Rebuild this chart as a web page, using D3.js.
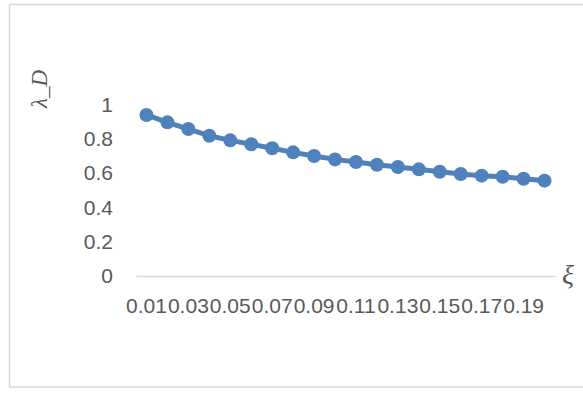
<!DOCTYPE html>
<html>
<head>
<meta charset="utf-8">
<script src="https://cdn.jsdelivr.net/npm/d3@7"></script>
<style>
  html, body { margin: 0; padding: 0; background: #fff; }
  svg { display: block; }
</style>
</head>
<body>
<script>
const categories = ["0.01","0.02","0.03","0.04","0.05","0.06","0.07","0.08","0.09","0.10",
                    "0.11","0.12","0.13","0.14","0.15","0.16","0.17","0.18","0.19","0.20"];
const lambdaD = [0.939,0.896,0.857,0.818,0.791,0.768,0.745,0.721,0.700,0.680,
                 0.665,0.649,0.636,0.622,0.608,0.595,0.585,0.579,0.567,0.556];
const yTicks = [0, 0.2, 0.4, 0.6, 0.8, 1];
const xTickLabels = categories.filter((d, i) => i % 2 === 0);

const W = 583, H = 395;
const svg = d3.select("body").append("svg").attr("width", W).attr("height", H);

// chart frame
svg.append("rect").attr("x", 9.5).attr("y", 4.5).attr("width", 600).attr("height", 382.5)
  .attr("fill", "#fff").attr("stroke", "#d9d9d9").attr("stroke-width", 1.5);

const plot = { left: 136, right: 555, top: 104.5, bottom: 276 };
const x = d3.scaleBand().domain(categories).range([plot.left, plot.right]);
const y = d3.scaleLinear().domain([0, 1]).range([plot.bottom, plot.top]);

const font = "'Liberation Sans', Arial, sans-serif";

// x axis
const xAxis = svg.append("g").attr("transform", `translate(0,${plot.bottom})`)
  .call(d3.axisBottom(x).tickValues(xTickLabels).tickSize(0).tickPadding(0));
xAxis.select(".domain").attr("stroke", "#d9d9d9").attr("stroke-width", 1.3);
xAxis.selectAll("text").attr("fill", "#595959").attr("font-family", font)
  .attr("font-size", 21).attr("dy", null).attr("y", 37);

// y axis (labels only)
const yAxis = svg.append("g").attr("transform", `translate(${plot.left},0)`)
  .call(d3.axisLeft(y).tickValues(yTicks).tickFormat(d3.format("~g")).tickSize(0).tickPadding(23));
yAxis.select(".domain").remove();
yAxis.selectAll("text").attr("fill", "#595959").attr("font-family", font).attr("font-size", 21);

// series
const pts = categories.map((c, i) => ({ c, v: lambdaD[i] }));
const line = d3.line().x(d => x(d.c) + x.bandwidth() / 2).y(d => y(d.v));
svg.append("path").datum(pts).attr("d", line).attr("fill", "none")
  .attr("stroke", "#4f81bd").attr("stroke-width", 5).attr("stroke-linejoin", "round");
svg.selectAll("circle.pt").data(pts).enter().append("circle").attr("class", "pt")
  .attr("cx", d => x(d.c) + x.bandwidth() / 2).attr("cy", d => y(d.v)).attr("r", 7)
  .attr("fill", "#4f81bd");

// axis titles
svg.append("text").attr("transform", "translate(47,89) rotate(-90)")
  .attr("text-anchor", "middle").attr("font-family", "'Liberation Serif', 'DejaVu Serif', serif")
  .attr("font-style", "italic").attr("font-size", 23).attr("fill", "#595959").text("λ_D");
svg.append("text").attr("x", 562).attr("y", 284)
  .attr("font-family", "'Liberation Serif', 'DejaVu Serif', serif")
  .attr("font-style", "italic").attr("font-size", 28).attr("fill", "#595959").text("ξ");
</script>
</body>
</html>
